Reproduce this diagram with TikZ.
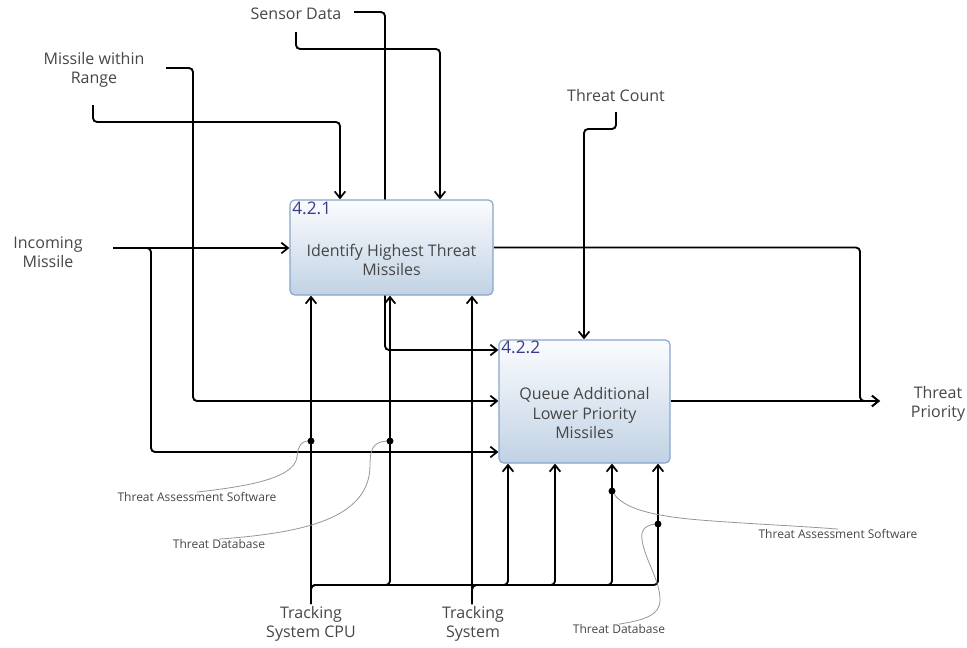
\documentclass[tikz,border=0pt]{standalone}
\usepackage{fontspec}
\setmainfont{Open Sans}
\usetikzlibrary{arrows.meta,backgrounds}
\definecolor{txt}{RGB}{70,70,70}
\definecolor{numc}{RGB}{58,58,140}
\definecolor{boxtop}{RGB}{251,252,254}
\definecolor{boxbot}{RGB}{193,210,228}
\definecolor{boxedge}{RGB}{136,165,203}
\definecolor{notec}{RGB}{150,150,150}
\begin{document}
\begin{tikzpicture}[x=0.75pt,y=-0.75pt,
  lbl/.style={text=txt, font=\fontsize{12}{14.5}\selectfont, align=center, inner sep=0pt},
  small/.style={text=txt, font=\fontsize{9}{11}\selectfont, inner sep=0pt},
  proc/.style={draw=boxedge, line width=0.9pt, rounded corners=3.5pt, top color=boxtop, bottom color=boxbot},
  num/.style={text=numc, font=\fontsize{13}{15}\selectfont, inner sep=0pt, anchor=north west},
  flow/.style={line width=1.4pt, rounded corners=3pt},
  arr/.style={-{Straight Barb[length=5pt,width=8pt,line width=1.3pt]}},
  notel/.style={draw=notec, line width=0.6pt},
  dot/.style={circle, fill=black, inner sep=0pt, minimum size=5pt}
]
\useasboundingbox (0,0) rectangle (967,647);

% process boxes
\node[proc, minimum width=152.25pt, minimum height=71.25pt] (b1) at (391.5,247.5) {};
\node[lbl] (b1t) at (391.5,260) {Identify Highest Threat\\Missiles};
\node[num] (b1n) at (292,202) {4.2.1};
\node[proc, minimum width=128.25pt, minimum height=92.25pt] (b2) at (584.5,401.5) {};
\node[lbl] (b2t) at (584.5,413) {Queue Additional\\Lower Priority\\Missiles};
\node[num] (b2n) at (501,341) {4.2.2};

% labels
\node[lbl] (inm) at (48,252) {Incoming\\Missile};
\node[lbl] (mwr) at (94,70) {Missile within\\Range};
\node[lbl] (sdl) at (296,14) {Sensor Data};
\node[lbl] (tcl) at (616,95) {Threat Count};
\node[lbl] (tpl) at (938,404) {Threat\\Priority};
\node[lbl] (cpul) at (311,624) {Tracking\\System CPU};
\node[lbl] (tsl) at (473,624) {Tracking\\System};

% coordinates
\coordinate (im0) at (113,248);
\coordinate (im1) at (151,452);
\coordinate (mrA) at (93,105);
\coordinate (mrB) at (340,122);
\coordinate (mrC) at (166,68);
\coordinate (mrD) at (193,401);
\coordinate (sdA) at (354,12);
\coordinate (sdB) at (385,350);
\coordinate (sdC) at (296,32);
\coordinate (sdD) at (440,49);
\coordinate (tcA) at (616,112);
\coordinate (tcB) at (584,129);
\coordinate (o1) at (860,401);
\coordinate (o2) at (880,401);
\coordinate (cpu) at (311,604);
\coordinate (ts) at (472,604);
\coordinate (m1) at (390,585);
\coordinate (m2) at (508,585);
\coordinate (m3) at (555,585);
\coordinate (m4) at (612,585);
\coordinate (m5) at (658,585);

\begin{scope}[on background layer]
\draw[flow,arr] (im0) -- (im0 -| b1.west);
\draw[flow,arr] (im0) -| (im1) -- (im1 -| b2.west);
\draw[flow,arr] (mrA) |- (mrB) -- (mrB |- b1.north);
\draw[flow,arr] (mrC) -| (mrD) -- (mrD -| b2.west);
\draw[flow,arr] (sdA) -| (sdB) -- (sdB -| b2.west);
\draw[flow,arr] (sdC) |- (sdD) -- (sdD |- b1.north);
\draw[flow,arr] (tcA) |- (tcB) -- (tcB |- b2.north);
\draw[flow,arr] (b1.east) -| (o1) -- (o2);
\draw[flow,arr] (b2.east |- o2) -- (o2);
\draw[flow,arr] (cpu) -- (cpu |- b1.south);
\draw[flow,arr] (cpu) |- (m1) -- (m1 |- b1.south);
\draw[flow,arr] (cpu) |- (m2) -- (m2 |- b2.south);
\draw[flow,arr] (ts) -- (ts |- b1.south);
\draw[flow,arr] (ts) |- (m3) -- (m3 |- b2.south);
\draw[flow,arr] (ts) |- (m4) -- (m4 |- b2.south);
\draw[flow,arr] (ts) |- (m5) -- (m5 |- b2.south);
\end{scope}

% notes
\node[small] (tas1) at (197,497) {Threat Assessment Software};
\node[small] (tdb1) at (219,544) {Threat Database};
\node[small] (tas2) at (838,534) {Threat Assessment Software};
\node[small] (tdb2) at (619,629) {Threat Database};
\node[dot] (d1) at (311,441) {};
\node[dot] (d2) at (390,441) {};
\node[dot] (d3) at (612,491) {};
\node[dot] (d4) at (658,524) {};
\draw[notel] (d1.center) .. controls (300,440) and (298,448) .. (297,457) .. controls (294,480) and (240,487) .. (tas1.north);
\draw[notel] (d2.center) .. controls (375,441) and (370,446) .. (370,465) .. controls (370,520) and (300,533) .. (tdb1.north);
\draw[notel] (d3.center) .. controls (620,505) and (640,515) .. (700,520) .. controls (750,524) and (800,526) .. (tas2.north);
\draw[notel] (d4.center) .. controls (648,524) and (640,528) .. (642,540) .. controls (645,560) and (660,580) .. (660,600) .. controls (660,615) and (645,620) .. (tdb2.north);
\node[dot] at (d1) {};
\node[dot] at (d2) {};
\node[dot] at (d3) {};
\node[dot] at (d4) {};
\end{tikzpicture}
\end{document}
